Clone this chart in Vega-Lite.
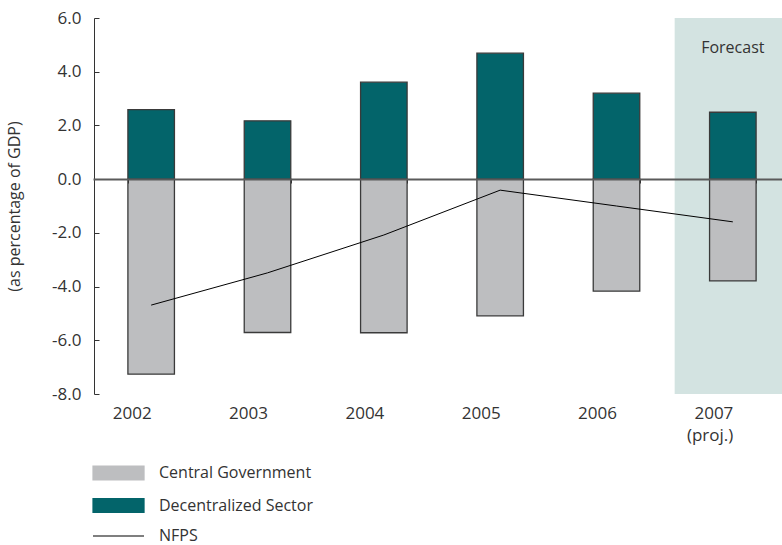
{
  "$schema": "https://vega.github.io/schema/vega-lite/v6.json",
  "width": 688,
  "height": 376,
  "autosize": {"type": "none"},
  "padding": {"left": 94, "top": 18, "right": 0, "bottom": 151},
  "config": {
    "view": {"stroke": null},
    "font": "Open Sans",
    "text": {"font": "Open Sans"}
  },
  "datasets": {
    "bars": [
      {"year": "2002", "series": "Central Government", "value": -7.26},
      {"year": "2003", "series": "Central Government", "value": -5.71},
      {"year": "2004", "series": "Central Government", "value": -5.72},
      {"year": "2005", "series": "Central Government", "value": -5.09},
      {"year": "2006", "series": "Central Government", "value": -4.17},
      {"year": "2007", "series": "Central Government", "value": -3.79},
      {"year": "2002", "series": "Decentralized Sector", "value": 2.59},
      {"year": "2003", "series": "Decentralized Sector", "value": 2.17},
      {"year": "2004", "series": "Decentralized Sector", "value": 3.61},
      {"year": "2005", "series": "Decentralized Sector", "value": 4.69},
      {"year": "2006", "series": "Decentralized Sector", "value": 3.2},
      {"year": "2007", "series": "Decentralized Sector", "value": 2.49}
    ],
    "nfps": [
      {"year": "2002", "value": -4.69},
      {"year": "2003", "value": -3.49},
      {"year": "2004", "value": -2.08},
      {"year": "2005", "value": -0.41},
      {"year": "2006", "value": -1.0},
      {"year": "2007", "value": -1.59}
    ],
    "forecast": [
      {"year": "2007", "lo": -8, "hi": 6, "label": "Forecast", "labelY": 4.88}
    ]
  },
  "layer": [
    {
      "data": {"name": "forecast"},
      "mark": {"type": "bar", "color": "#d3e3e1", "clip": true, "width": {"band": 2.5}},
      "encoding": {
        "x": {"field": "year", "type": "ordinal"},
        "y": {"field": "lo", "type": "quantitative"},
        "y2": {"field": "hi"}
      }
    },
    {
      "data": {"name": "forecast"},
      "mark": {"type": "text", "fontSize": 16, "color": "#333333", "baseline": "middle"},
      "encoding": {
        "x": {"field": "year", "type": "ordinal"},
        "y": {"field": "labelY", "type": "quantitative"},
        "text": {"field": "label"}
      }
    },
    {
      "data": {"name": "bars"},
      "mark": {"type": "bar", "stroke": "#3a3a3a", "strokeWidth": 1.3},
      "encoding": {
        "x": {
          "field": "year",
          "type": "ordinal",
          "scale": {"domain": ["2002", "2003", "2004", "2005", "2006", "2007"], "range": [-1, 697], "paddingInner": 0.6, "paddingOuter": 0.3},
          "axis": {
            "title": null,
            "offset": -215,
            "zindex": 1,
            "domainColor": "#5a5a5a",
            "domainWidth": 2,
            "tickColor": "#333333",
            "tickSize": 4,
            "tickBand": "extent",
            "labelPadding": 230,
            "labelFontSize": 17,
            "labelColor": "#333333",
            "labelAngle": 0,
            "labelLineHeight": 22,
            "labelExpr": "datum.value == '2007' ? ['2007', '(proj.)'] : datum.label"
          }
        },
        "y": {
          "field": "value",
          "type": "quantitative",
          "stack": null,
          "scale": {"domain": [-8, 6], "nice": false, "zero": false},
          "axis": {
            "title": "(as percentage of GDP)",
            "titleFontSize": 16,
            "titleFontWeight": "normal",
            "titleColor": "#333333",
            "titlePadding": 29,
            "values": [-8, -6, -4, -2, 0, 2, 4, 6],
            "format": ".1f",
            "labelExpr": "replace(datum.label, '\u2212', '-')",
            "grid": false,
            "domainColor": "#333333",
            "tickColor": "#333333",
            "tickSize": -5,
            "labelPadding": 18,
            "labelFontSize": 17,
            "labelColor": "#333333"
          }
        },
        "color": {
          "field": "series",
          "type": "nominal",
          "scale": {"domain": ["Central Government", "Decentralized Sector", "NFPS"], "range": ["#bdbec0", "#03646a", "#000000"]},
          "legend": {
            "orient": "none",
            "legendX": -2,
            "legendY": 447,
            "title": null,
            "padding": 0,
            "symbolSize": 196,
            "symbolType": {"expr": "datum.value === 'NFPS' ? 'M-1,0H6.29' : 'M-1,-1H6.29V1H-1Z'"},
            "symbolStrokeColor": "#333333",
            "symbolStrokeWidth": 1.2,
            "labelOffset": 51,
            "labelFontSize": 16,
            "labelColor": "#333333",
            "rowPadding": 12.5,
            "symbolOpacity": 1,
            "encode": {
              "symbols": {
                "update": {
                  "fill": {"signal": "datum.value === 'NFPS' ? 'transparent' : scale('color', datum.value)"},
                  "stroke": {"signal": "datum.value === 'NFPS' ? '#000000' : '#333333'"},
                  "strokeWidth": {"value": 1.2},
                  "opacity": {"value": 1}
                }
              }
            }
          }
        }
      }
    },
    {
      "data": {"name": "nfps"},
      "mark": {"type": "line", "strokeWidth": 1},
      "encoding": {
        "x": {"field": "year", "type": "ordinal"},
        "y": {"field": "value", "type": "quantitative"},
        "color": {"datum": "NFPS"}
      }
    }
  ]
}
